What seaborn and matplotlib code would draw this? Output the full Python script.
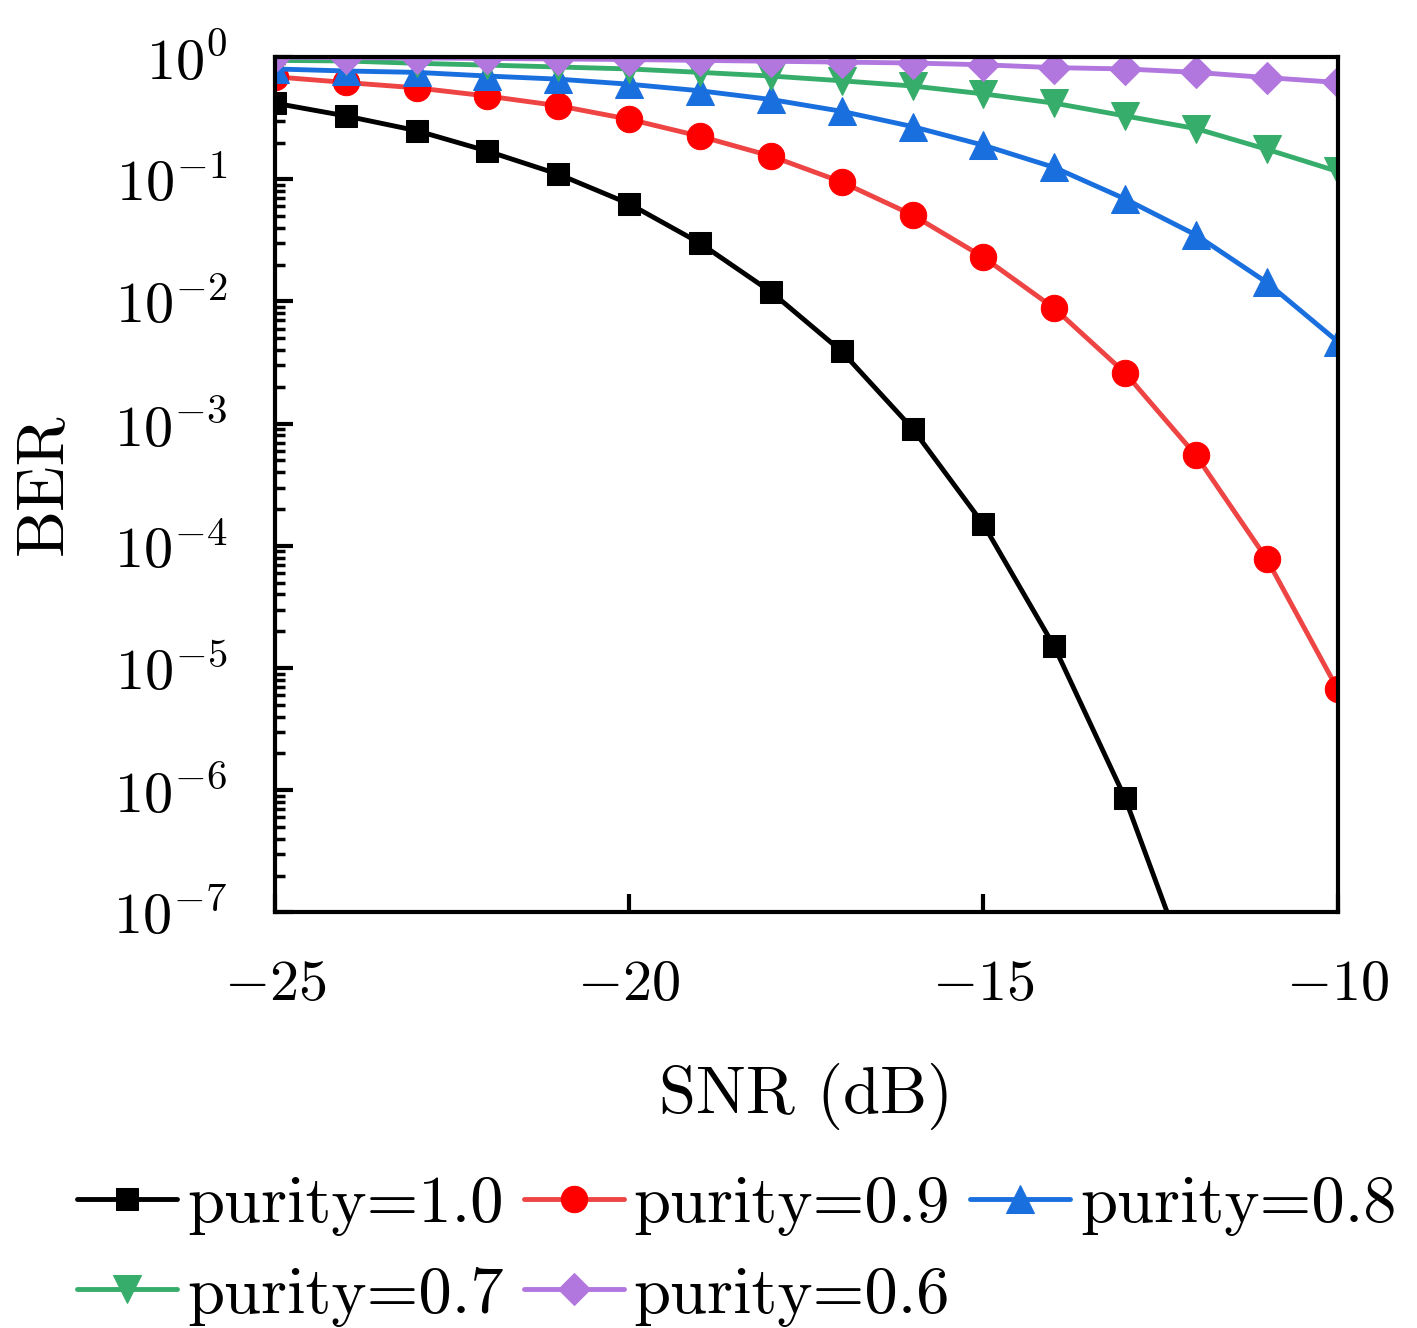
import matplotlib
matplotlib.use("Agg")
import matplotlib.pyplot as plt
import seaborn as sns

# SNR grid (dB)
snr = [-25, -24, -23, -22, -21, -20, -19, -18, -17, -16, -15, -14, -13, -12, -11, -10]

# BER, one list per purity
ber_10 = [0.42, 0.33, 0.25, 0.17, 0.11, 0.063, 0.030, 0.012, 0.0039, 9.1e-4,
          1.5e-4, 1.5e-5, 8.6e-7, 2.3e-8, 1e-9, 1e-10]
ber_09 = [0.69, 0.62, 0.56, 0.48, 0.40, 0.31, 0.225, 0.155, 0.095, 0.051,
          0.023, 0.0088, 0.0026, 5.5e-4, 7.8e-5, 6.7e-6]
ber_08 = [0.80, 0.77, 0.75, 0.70, 0.66, 0.60, 0.53, 0.45, 0.36, 0.27,
          0.19, 0.125, 0.069, 0.035, 0.0143, 0.0047]
ber_07 = [0.94, 0.93, 0.89, 0.86, 0.83, 0.80, 0.75, 0.70, 0.64, 0.58,
          0.50, 0.42, 0.33, 0.26, 0.176, 0.116]
ber_06 = [1.0, 0.99, 0.985, 0.975, 0.965, 0.955, 0.94, 0.925, 0.91, 0.895,
          0.865, 0.82, 0.80, 0.75, 0.68, 0.62]

labels = ["purity=1.0", "purity=0.9", "purity=0.8", "purity=0.7", "purity=0.6"]

xticks = [-25, -20, -15, -10]
xticklabels = [r"$-25$", r"$-20$", r"$-15$", r"$-10$"]
yticks = [1e0, 1e-1, 1e-2, 1e-3, 1e-4, 1e-5, 1e-6, 1e-7]
yticklabels = [r"$10^{0}$", r"$10^{-1}$", r"$10^{-2}$", r"$10^{-3}$",
               r"$10^{-4}$", r"$10^{-5}$", r"$10^{-6}$", r"$10^{-7}$"]

sns.set_style("white")
plt.rcParams["font.family"] = ["cmr10", "DejaVu Serif"]
plt.rcParams["mathtext.fontset"] = "cm"
plt.rcParams["axes.unicode_minus"] = False
for k in ["text.color", "axes.labelcolor", "xtick.color", "ytick.color"]:
    plt.rcParams[k] = "black"

FS = 48      # plain text
FS_TICK = 42 # math tick labels

fig = plt.figure(figsize=(14.17, 13.28), dpi=100)
ax = fig.add_axes([0.194, 0.313, 0.750, 0.644])

styles = [
    (ber_10, "black", "black", "s", 16),
    (ber_09, "#ee4444", "#ff0000", "o", 19),
    (ber_08, "#1a6fdf", "#1a6fdf", "^", 20),
    (ber_07, "#37ad6b", "#37ad6b", "v", 20),
    (ber_06, "#b177de", "#b177de", "D", 16),
]
for (vals, lc, mc, mk, ms), lab in zip(styles, labels):
    sns.lineplot(x=snr, y=vals, ax=ax, color=lc, marker=mk, markersize=ms,
                 markerfacecolor=mc, markeredgecolor=mc, linewidth=3.5,
                 label=lab, legend=False)

ax.set_yscale("log")
ax.set_xlim(-25, -10)
ax.set_ylim(1e-7, 1e0)

ax.set_xticks(xticks)
ax.set_xticklabels(xticklabels, fontsize=FS_TICK)
ax.set_yticks(yticks)
ax.set_yticklabels(yticklabels, fontsize=FS_TICK)
ax.yaxis.set_minor_locator(matplotlib.ticker.LogLocator(base=10, subs=range(2, 10), numticks=20))
ax.yaxis.set_minor_formatter(matplotlib.ticker.NullFormatter())

ax.tick_params(axis="both", which="major", direction="in", length=13, width=3,
               pad=34, left=True, bottom=True, top=False, right=False)
ax.tick_params(axis="y", which="minor", direction="in", length=7, width=2.5,
               left=True, right=False)
for sp in ax.spines.values():
    sp.set_linewidth(3)
    sp.set_color("black")

ax.set_xlabel("SNR (dB)", fontsize=FS, labelpad=38)
ax.set_ylabel("BER", fontsize=FS, labelpad=28)

# row-major legend order (matplotlib fills columns first)
handles, labs = ax.get_legend_handles_labels()
order = [0, 3, 1, 4, 2]
fig.legend([handles[i] for i in order], [labs[i] for i in order],
           loc="lower center", bbox_to_anchor=(0.52, -0.019), ncol=3,
           fontsize=FS, frameon=False, handlelength=1.5, handletextpad=0.15,
           columnspacing=0.3, labelspacing=0.45, borderaxespad=0.0)

fig.savefig("out.png", dpi=100)
